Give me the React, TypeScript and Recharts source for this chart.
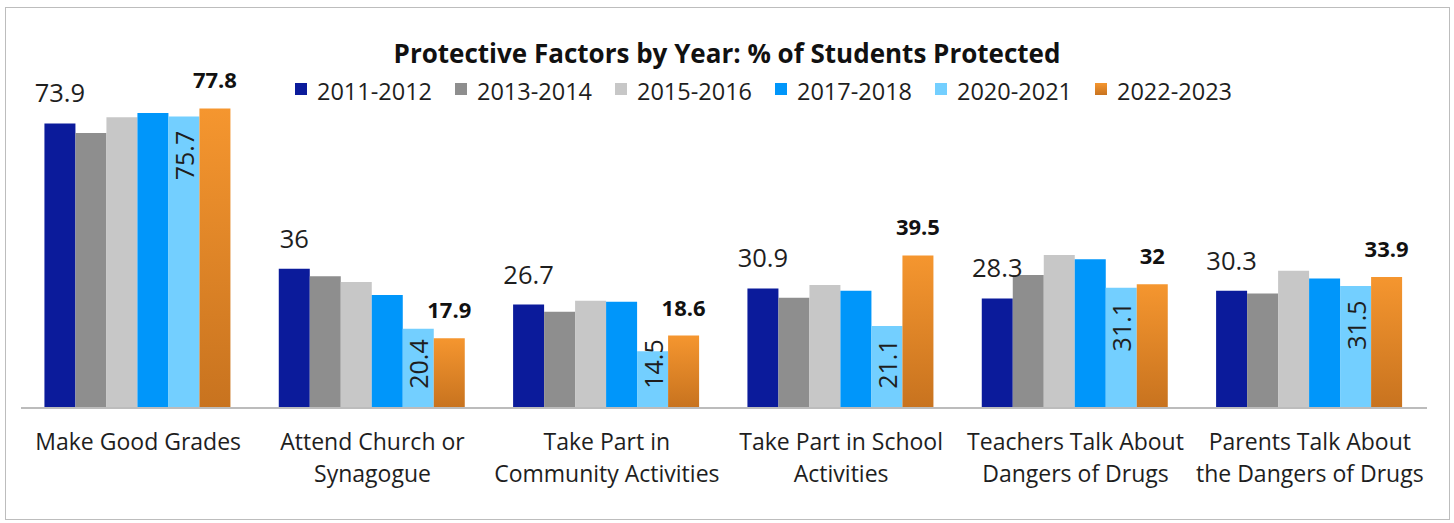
import React from 'react';
import { BarChart, Bar, XAxis, YAxis, Legend, LabelList } from 'recharts';

const FONT = '"Open Sans", "Noto Sans", sans-serif';

const categories = [
  'Make Good Grades',
  'Attend Church or\nSynagogue',
  'Take Part in\nCommunity Activities',
  'Take Part in School\nActivities',
  'Teachers Talk About\nDangers of Drugs',
  'Parents Talk About\nthe Dangers of Drugs',
];

const seriesNames = ['2011-2012', '2013-2014', '2015-2016', '2017-2018', '2020-2021', '2022-2023'];

const v2011 = [73.9, 36, 26.7, 30.9, 28.3, 30.3];
const v2013 = [71.4, 34.1, 24.8, 28.5, 34.4, 29.6];
const v2015 = [75.5, 32.6, 27.7, 31.8, 39.6, 35.5];
const v2017 = [76.6, 29.2, 27.4, 30.3, 38.5, 33.5];
const v2020 = [75.7, 20.4, 14.5, 21.1, 31.1, 31.5];
const v2022 = [77.8, 17.9, 18.6, 39.5, 32, 33.9];

const seriesValues = [v2011, v2013, v2015, v2017, v2020, v2022];
const seriesKeys = ['s2011', 's2013', 's2015', 's2017', 's2020', 's2022'];
const seriesColors = ['#0B1B9B', '#8E8E8E', '#C7C7C7', '#0096FA', '#73CFFF', 'url(#orangeGrad)'];

const edgeTicks = categories.map((_, i) => i).concat([categories.length]);
const yDomain = [0, 80];

const chartTitle = 'Protective Factors by Year: % of Students Protected';

const data = categories.map((c, i) => {
  const row: any = { category: c };
  seriesKeys.forEach((k, j) => {
    row[k] = seriesValues[j][i];
  });
  return row;
});

const CategoryTick = (props: any) => {
  const { x, y, payload } = props;
  const lines = String(payload.value).split('\n');
  return (
    <text x={x} y={y} textAnchor="middle" fill="#1E1E1E" fontSize={23} fontFamily={FONT}>
      {lines.map((l, i) => (
        <tspan key={i} x={x} dy={i === 0 ? 43 : 32}>
          {l}
        </tspan>
      ))}
    </text>
  );
};

const RotatedLabel = (props: any) => {
  const vb = props.viewBox || props;
  const x = Number(vb.x ?? props.x);
  const y = Number(vb.y ?? props.y);
  const w = Number(vb.width ?? props.width);
  const h = Number(vb.height ?? props.height);
  const cx = x + w / 2;
  const cy = Math.min(y + 39, y + h - 43);
  return (
    <text
      x={cx}
      y={cy}
      transform={`rotate(-90 ${cx} ${cy})`}
      textAnchor="middle"
      dominantBaseline="central"
      fill="#1E1E1E"
      fontSize={25}
      fontFamily={FONT}
    >
      {props.value}
    </text>
  );
};

const LegendContent = (props: any) => {
  const payload = props.payload || [];
  return (
    <div style={{ position: 'relative', width: 1454, height: 100, fontFamily: FONT }}>
      <div
        style={{
          position: 'absolute',
          top: 40,
          left: 0,
          width: 1454,
          textAlign: 'center',
          fontWeight: 700,
          fontSize: 26,
          lineHeight: '26px',
          color: '#111',
        }}
      >
        {chartTitle}
      </div>
      <div style={{ position: 'absolute', top: 80, left: 295, display: 'flex' }}>
        {payload.map((entry: any, i: number) => (
          <div key={i} style={{ width: 160, display: 'flex', alignItems: 'flex-start' }}>
            <svg width={12} height={12} style={{ marginTop: 3, marginRight: 10, flex: 'none' }}>
              <rect width={12} height={12} fill={entry.color} />
            </svg>
            <span style={{ fontSize: 23.5, lineHeight: '23px', color: '#1E1E1E', whiteSpace: 'nowrap' }}>
              {entry.value}
            </span>
          </div>
        ))}
      </div>
    </div>
  );
};

export default function App() {
  return (
    <div style={{ position: 'absolute', left: 0, top: 0, width: 1454, height: 523, background: '#fff' }}>
      <svg width={0} height={0} style={{ position: 'absolute' }}>
        <defs>
          <linearGradient id="orangeGrad" x1="0" y1="0" x2="0" y2="1">
            <stop offset="0%" stopColor="#F5962F" />
            <stop offset="100%" stopColor="#C8731F" />
          </linearGradient>
        </defs>
      </svg>
      <div
        style={{
          position: 'absolute',
          left: 5,
          top: 7,
          width: 1445,
          height: 513,
          border: '1px solid #BDBDBD',
          boxSizing: 'border-box',
        }}
      />
      <div style={{ position: 'absolute', left: 0, top: 0 }}>
        <BarChart
          width={1454}
          height={523}
          data={data}
          margin={{ top: 0, right: 27, bottom: 114, left: 21 }}
          barCategoryGap="10%"
          barGap={0}
        >
          <Legend
            verticalAlign="top"
            align="left"
            wrapperStyle={{ left: 0, top: 0, width: 1454 }}
            content={<LegendContent />}
          />
          <XAxis
            xAxisId="edge"
            type="number"
            domain={[0, categories.length]}
            ticks={edgeTicks}
            interval={0}
            allowDataOverflow
            tick={false}
            tickSize={7}
            height={1}
            axisLine={{ stroke: '#A6A6A6', strokeWidth: 1.5 }}
            tickLine={{ stroke: '#A6A6A6', strokeWidth: 1.5 }}
          />
          <XAxis
            xAxisId="cat"
            dataKey="category"
            type="category"
            height={1}
            interval={0}
            axisLine={false}
            tickLine={false}
            tickSize={0}
            tickMargin={0}
            tick={<CategoryTick />}
          />
          <YAxis hide domain={yDomain} allowDataOverflow />
          {seriesKeys.map((k, j) => (
            <Bar
              key={k}
              xAxisId="cat"
              dataKey={k}
              name={seriesNames[j]}
              fill={seriesColors[j]}
              isAnimationActive={false}
            >
              {j === 0 && (
                <LabelList
                  dataKey={k}
                  position="top"
                  offset={21}
                  fill="#1E1E1E"
                  fontSize={25.5}
                  fontFamily={FONT}
                />
              )}
              {j === 4 && <LabelList dataKey={k} content={<RotatedLabel />} />}
              {j === 5 && (
                <LabelList
                  dataKey={k}
                  position="top"
                  offset={20}
                  fill="#111"
                  fontSize={22}
                  fontWeight={700}
                  fontFamily={FONT}
                />
              )}
            </Bar>
          ))}
        </BarChart>
      </div>
    </div>
  );
}
